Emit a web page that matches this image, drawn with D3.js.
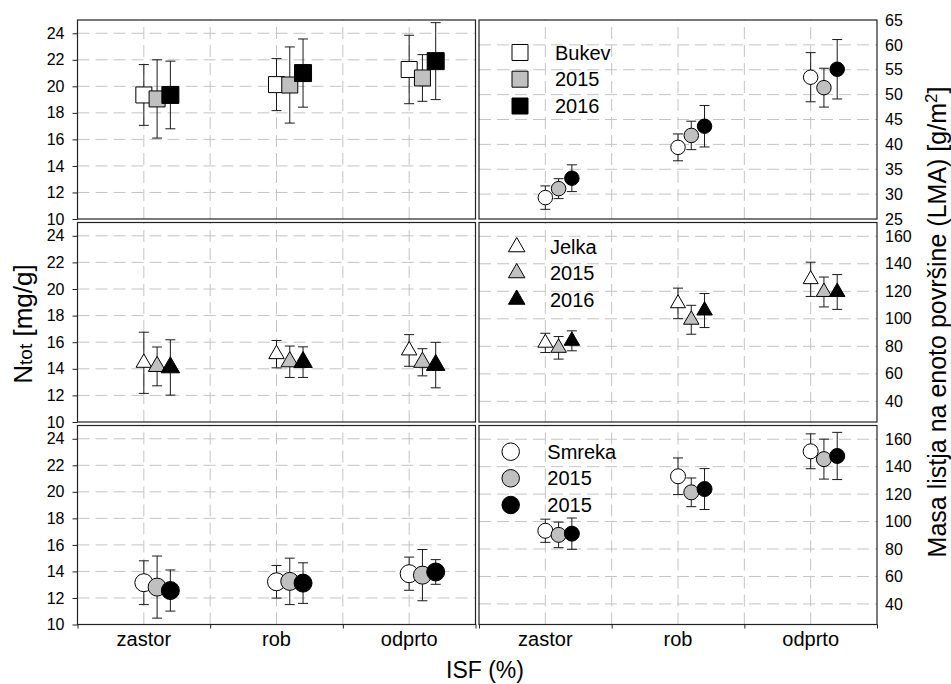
<!DOCTYPE html>
<html>
<head>
<meta charset="utf-8">
<script src="https://cdn.jsdelivr.net/npm/d3@7"></script>
<style>
  body { margin: 0; background: #fff; }
  svg { display: block; }
  text { font-family: "Liberation Sans", Arial, sans-serif; fill: #000; }
</style>
</head>
<body>
<svg id="chart" width="951" height="684"></svg>
<script>
// ---- data -------------------------------------------------------------
const categories = ["zastor", "rob", "odprto"];
const seriesFills = ["#ffffff", "#c0c0c0", "#000000"];

// Ntot [mg/g]; rows = series (white, 2015, 2016), columns = categories
const bukevNtotMean  = [[19.35, 20.13, 21.27], [19.05, 20.10, 20.63], [19.35, 21.00, 21.90]];
const bukevNtotSd    = [[2.29, 1.96, 2.58], [2.95, 2.87, 1.76], [2.55, 2.57, 2.90]];
const jelkaNtotMean  = [[14.45, 15.10, 15.38], [14.18, 14.53, 14.49], [14.10, 14.50, 14.28]];
const jelkaNtotSd    = [[2.30, 1.03, 1.19], [1.46, 1.18, 1.02], [2.08, 1.15, 1.71]];
const smrekaNtotMean = [[13.15, 13.22, 13.83], [12.82, 13.25, 13.72], [12.56, 13.12, 13.96]];
const smrekaNtotSd   = [[1.65, 1.23, 1.25], [2.34, 1.75, 1.93], [1.55, 1.53, 0.93]];

// LMA [g/m2]
const bukevLmaMean  = [[29.3, 39.4, 53.5], [31.1, 41.8, 51.4], [33.2, 43.65, 55.1]];
const bukevLmaSd    = [[2.35, 2.70, 4.94], [2.00, 2.86, 3.90], [2.69, 4.17, 5.97]];
const jelkaLmaMean  = [[82.5, 111.2, 128.7], [78.9, 99.3, 119.5], [84.0, 106.0, 119.5]];
const jelkaLmaSd    = [[7.00, 11.10, 12.45], [8.20, 10.50, 10.85], [7.25, 12.35, 12.65]];
const smrekaLmaMean = [[93.3, 133.0, 151.2], [90.3, 121.3, 145.5], [91.2, 123.7, 147.8]];
const smrekaLmaSd   = [[8.45, 13.35, 12.70], [9.30, 10.45, 14.55], [11.40, 14.90, 17.20]];

const ntotTicks = [10, 12, 14, 16, 18, 20, 22, 24];
const bukevLmaTicks = [25, 30, 35, 40, 45, 50, 55, 60, 65];
const lmaTicks = [40, 60, 80, 100, 120, 140, 160];

const legendBukev = ["Bukev", "2015", "2016"];
const legendJelka = ["Jelka", "2015", "2016"];
const legendSmreka = ["Smreka", "2015", "2015"];

// ---- layout -----------------------------------------------------------
const svg = d3.select("#chart");
const cols = [[77.5, 475.5], [479, 877]];
const rows = [[20, 219], [222.5, 422], [425.5, 624.5]];
const seriesOffset = [0, 0.1, 0.2];

// marker outlines centred on the data point
function markerPath(shape, size) {
  if (shape === "circle") {
    const r = size / 2;
    return `M${r},0A${r},${r} 0 1,1 ${-r},0A${r},${r} 0 1,1 ${r},0Z`;
  }
  if (shape === "triangle") {
    const h = size * Math.sqrt(3) / 2;
    return `M0,${-2 * h / 3}L${size / 2},${h / 3}L${-size / 2},${h / 3}Z`;
  }
  return `M${-size / 2},${-size / 2}h${size}v${size}h${-size}Z`;
}

const panels = [
  { col: 0, row: 0, mean: bukevNtotMean, sd: bukevNtotSd, domain: [10, 25], ticks: ntotTicks, shape: "square", sizes: [16, 16, 17] },
  { col: 0, row: 1, mean: jelkaNtotMean, sd: jelkaNtotSd, domain: [10, 25], ticks: ntotTicks, shape: "triangle", sizes: [15.5, 17.5, 18.5] },
  { col: 0, row: 2, mean: smrekaNtotMean, sd: smrekaNtotSd, domain: [10, 25], ticks: ntotTicks, shape: "circle", sizes: [18, 18, 18] },
  { col: 1, row: 0, mean: bukevLmaMean, sd: bukevLmaSd, domain: [25, 65], ticks: bukevLmaTicks, shape: "circle", sizes: [14.5, 14.5, 14.5],
    legend: { labels: legendBukev, shape: "square", size: 16, x: 520, y: [52.5, 79.2, 106], tx: 555 } },
  { col: 1, row: 1, mean: jelkaLmaMean, sd: jelkaLmaSd, domain: [25, 170], ticks: lmaTicks, shape: "triangle", sizes: [15, 15.5, 15.5],
    legend: { labels: legendJelka, shape: "triangle", size: 16.5, x: 516.7, y: [247, 273, 299.5], tx: 550 } },
  { col: 1, row: 2, mean: smrekaLmaMean, sd: smrekaLmaSd, domain: [25, 170], ticks: lmaTicks, shape: "circle", sizes: [15, 15, 15],
    legend: { labels: legendSmreka, shape: "circle", size: 17.5, x: 510.7, y: [451.7, 478.3, 505], tx: 547.3 } }
];

panels.forEach(p => {
  const [x0, x1] = cols[p.col];
  const [y0, y1] = rows[p.row];
  const x = d3.scaleLinear().domain([0, 3]).range([x0, x1]);
  const y = d3.scaleLinear().domain(p.domain).range([y1, y0]);
  const g = svg.append("g");

  // dashed grid
  const grid = g.append("g").attr("stroke", "#c4c4c4").attr("stroke-width", 1)
    .attr("stroke-dasharray", "12,6").attr("fill", "none");
  grid.selectAll("line.h").data(p.ticks.filter(t => t > p.domain[0] && t < p.domain[1]))
    .join("line").attr("class", "h")
    .attr("x1", x0).attr("x2", x1).attr("y1", d => y(d)).attr("y2", d => y(d));
  grid.selectAll("line.v").data([0.5, 1, 1.5, 2, 2.5])
    .join("line").attr("class", "v")
    .attr("x1", d => x(d)).attr("x2", d => x(d)).attr("y1", y1).attr("y2", y0);

  // y axis: left column on the left, right column on the right
  if (p.col === 0) {
    const ax = g.append("g").attr("transform", `translate(${x0},0)`)
      .call(d3.axisLeft(y).tickValues(p.ticks).tickSize(5).tickPadding(8).tickFormat(d3.format("d")));
    ax.select(".domain").remove();
    ax.selectAll("line").attr("stroke", "#222");
    ax.selectAll("text").attr("font-size", 16).attr("font-family", "Liberation Sans, Arial, sans-serif").attr("fill", "#000");
  } else {
    const ax = g.append("g").attr("transform", `translate(${x1},0)`)
      .call(d3.axisRight(y).tickValues(p.ticks).tickSize(0).tickPadding(8).tickFormat(d3.format("d")));
    ax.select(".domain").remove();
    ax.selectAll("text").attr("font-size", 16).attr("font-family", "Liberation Sans, Arial, sans-serif").attr("fill", "#000");
  }

  // bottom axis on the lowest row
  if (p.row === 2) {
    const bx = g.append("g").attr("transform", `translate(0,${y1})`)
      .call(d3.axisBottom(x).tickValues([0, 1, 2, 3]).tickSize(4).tickFormat(""));
    bx.select(".domain").remove();
    bx.selectAll("line").attr("stroke", "#222");
    g.selectAll("text.cat").data(categories).join("text").attr("class", "cat")
      .attr("x", (d, i) => x(i + 0.5)).attr("y", y1 + 21.5)
      .attr("text-anchor", "middle").attr("font-size", 20).text(d => d);
  }

  // error bars (mean ± SD) drawn beneath the markers
  p.mean.forEach((series, s) => {
    const pts = series.map((m, i) => ({ cx: x(i + 0.5 + seriesOffset[s]), m, sd: p.sd[s][i] }));
    const eb = g.append("g").attr("stroke", "#1a1a1a").attr("stroke-width", 1).attr("fill", "none");
    pts.forEach(d => {
      eb.append("line").attr("x1", d.cx).attr("x2", d.cx).attr("y1", y(d.m + d.sd)).attr("y2", y(d.m - d.sd));
      eb.append("line").attr("x1", d.cx - 5).attr("x2", d.cx + 5).attr("y1", y(d.m + d.sd)).attr("y2", y(d.m + d.sd));
      eb.append("line").attr("x1", d.cx - 5).attr("x2", d.cx + 5).attr("y1", y(d.m - d.sd)).attr("y2", y(d.m - d.sd));
    });
  });
  p.mean.forEach((series, s) => {
    g.append("g").selectAll("path").data(series).join("path")
      .attr("transform", (m, i) => `translate(${x(i + 0.5 + seriesOffset[s])},${y(m)})`)
      .attr("d", markerPath(p.shape, p.sizes[s]))
      .attr("fill", seriesFills[s]).attr("stroke", "#000").attr("stroke-width", 1);
  });

  // legend
  if (p.legend) {
    const L = p.legend;
    L.labels.forEach((lab, i) => {
      g.append("path").attr("transform", `translate(${L.x},${L.y[i]})`)
        .attr("d", markerPath(L.shape, L.size))
        .attr("fill", seriesFills[i]).attr("stroke", "#000").attr("stroke-width", 1);
      g.append("text").attr("x", L.tx).attr("y", L.y[i] + 7).attr("font-size", 20).text(lab);
    });
  }

  // panel frame
  g.append("rect").attr("x", x0).attr("y", y0).attr("width", x1 - x0).attr("height", y1 - y0)
    .attr("fill", "none").attr("stroke", "#222").attr("stroke-width", 1.2);
});

// axis titles
const yl = svg.append("text").attr("transform", "translate(32,324) rotate(-90)")
  .attr("text-anchor", "middle").attr("font-size", 26);
yl.append("tspan").text("N");
yl.append("tspan").attr("font-size", 19).text("tot");
yl.append("tspan").text(" [mg/g]");

const yr = svg.append("text").attr("transform", "translate(946,322) rotate(-90)")
  .attr("text-anchor", "middle").attr("font-size", 25);
yr.append("tspan").text("Masa listja na enoto površine (LMA) [g/m");
yr.append("tspan").attr("font-size", 17).attr("dy", -9).text("2");
yr.append("tspan").attr("dy", 9).text("]");

svg.append("text").attr("x", 485).attr("y", 678).attr("text-anchor", "middle")
  .attr("font-size", 23).text("ISF (%)");
</script>
</body>
</html>
